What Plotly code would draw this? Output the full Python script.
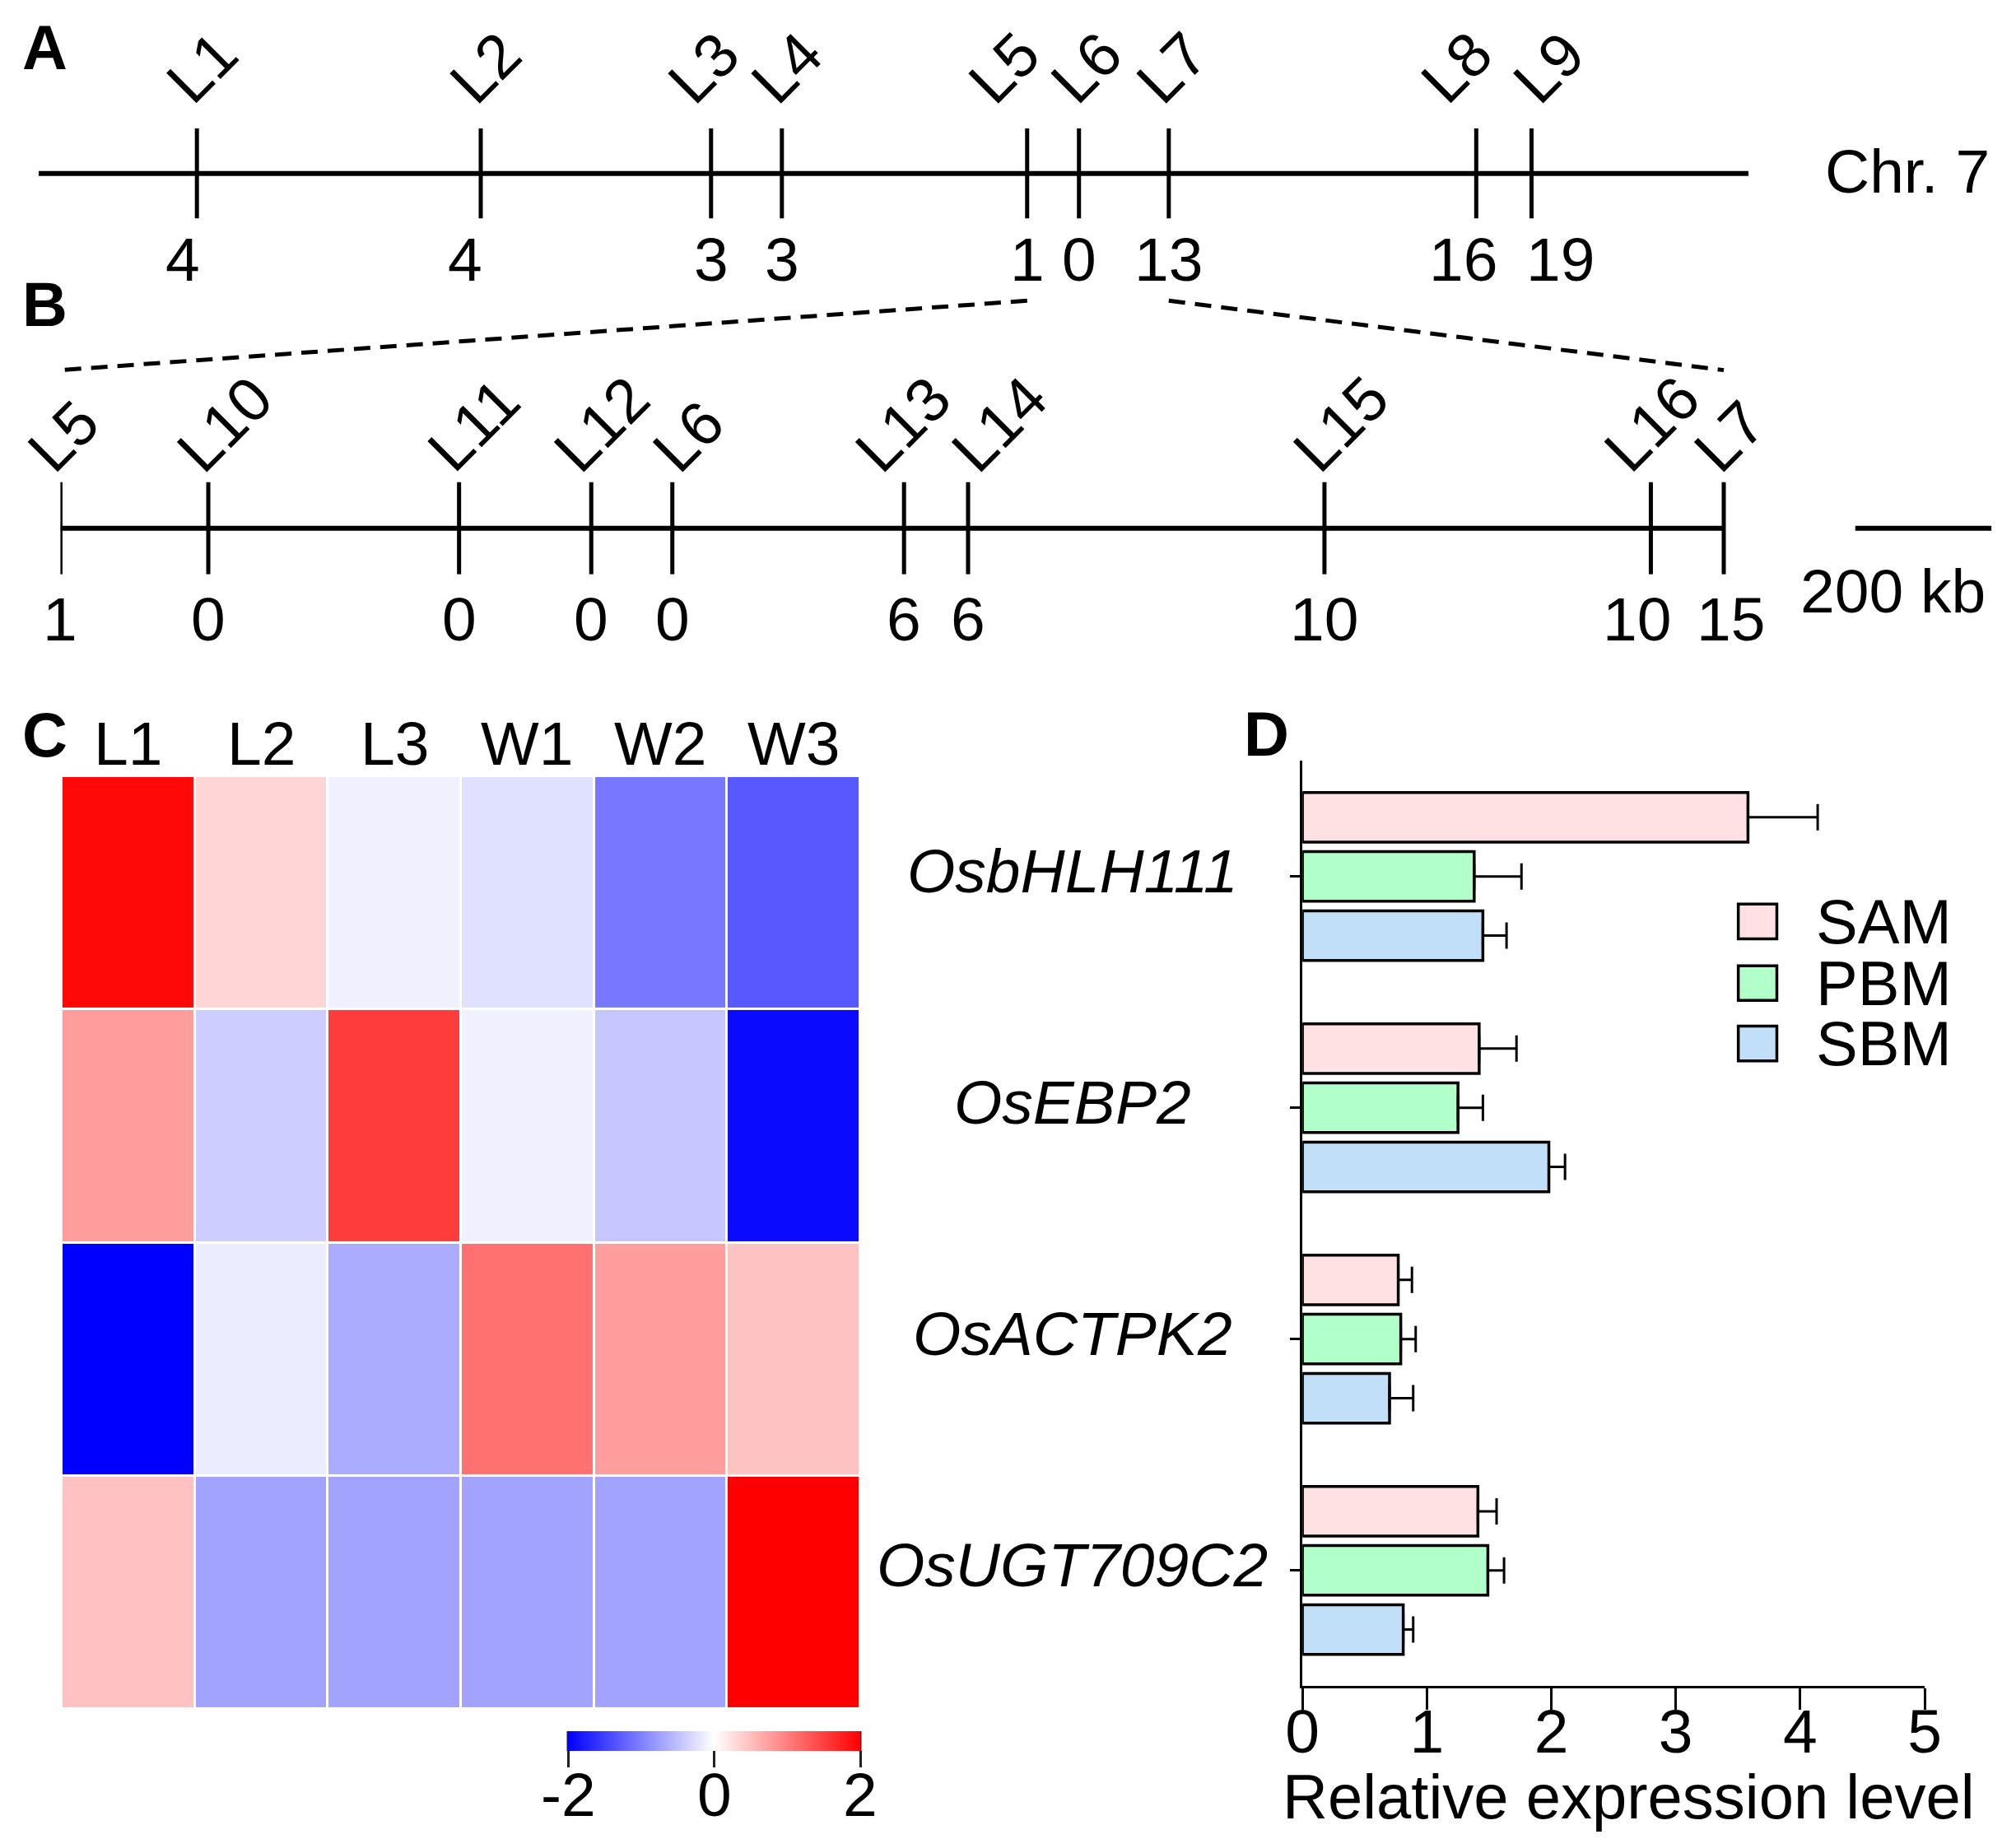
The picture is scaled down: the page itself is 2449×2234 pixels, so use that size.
import plotly.graph_objects as go

# ---------------- data ----------------
# Panel A: chromosome 7 markers (approx. position, Mb) and counts
A_labels = ["L1", "L2", "L3", "L4", "L5", "L6", "L7", "L8", "L9"]
A_pos_mb = [2.75, 7.68, 11.68, 12.91, 17.17, 18.07, 19.63, 24.97, 25.93]
A_counts = [4, 4, 3, 3, 1, 0, 13, 16, 19]
A_chr_len = 29.7

# Panel B: fine-mapping region L5-L7 (kb) and counts
B_labels = ["L5", "L10", "L11", "L12", "L6", "L13", "L14", "L15", "L16", "L7"]
B_pos_kb = [0, 217, 585, 779, 898, 1238, 1332, 1855, 2334, 2441]
B_counts = [1, 0, 0, 0, 0, 6, 6, 10, 10, 15]
B_scale_kb = 200

# Panel C: heatmap (z-score)
C_cols = ["L1", "L2", "L3", "W1", "W2", "W3"]
genes = ["OsbHLH111", "OsEBP2", "OsACTPK2", "OsUGT709C2"]
C_z = [
    [1.94, 0.33, -0.12, -0.24, -1.06, -1.31],
    [0.78, -0.39, 1.53, -0.12, -0.45, -1.92],
    [-2.00, -0.15, -0.65, 1.12, 0.78, 0.48],
    [0.49, -0.73, -0.73, -0.73, -0.73, 2.00],
]
C_ticks = [-2, 0, 2]

# Panel D: relative expression
D_series = ["SAM", "PBM", "SBM"]
D_vals = {
    "SAM": [3.58, 1.42, 0.77, 1.41],
    "PBM": [1.38, 1.25, 0.79, 1.49],
    "SBM": [1.45, 1.98, 0.70, 0.81],
}
D_err = {
    "SAM": [0.56, 0.30, 0.11, 0.15],
    "PBM": [0.38, 0.20, 0.12, 0.13],
    "SBM": [0.19, 0.13, 0.19, 0.08],
}
D_ticks = [0, 1, 2, 3, 4, 5]

# ---------------- layout / style ----------------
W, H = 2449, 2234
SX, SY = W / 1568.0, H / 1431.0   # measurement grid -> pixels
FONT = "Liberation Sans, Arial, Helvetica, sans-serif"
FS = 75
colors = {"SAM": "#FFE0E3", "PBM": "#B1FFC9", "SBM": "#C1DFF8"}

# label nudges (px) as placed in the original figure
A_lab_dx = [0, 0, -15, 0, -34, 3, -2, -30, 15]
A_num_dx = [-17, -19, 0, 0, 0, 0, 0, -16, 35]
B_lab_dx = [-3, -1, -1, -8, 13, -22, 17, -1, -20, 1]
B_num_dx = [0, 0, 0, 0, 0, 0, 0, 0, -17, 8]


def px_x(p):
    return p * SX / W


def px_y(p):
    return 1 - p * SY / H


domA_x = [px_x(30), px_x(1360)]
domA_y = [px_y(170), px_y(100)]
rngA_x = [0, A_chr_len]
domB_x = [px_x(47), px_x(1549)]
domB_y = [px_y(447), px_y(375)]
rngB_x = [0, 2834]
B_scale_start = 2634


def to_paper(v, dom, rng):
    return dom[0] + (v - rng[0]) / (rng[1] - rng[0]) * (dom[1] - dom[0])


fig = go.Figure()

# ---- Panel A ----
fig.add_trace(go.Scatter(x=[0, A_chr_len], y=[0, 0], mode="lines",
                         line=dict(color="black", width=6), xaxis="x", yaxis="y",
                         hoverinfo="skip", showlegend=False))
tx, ty = [], []
for p in A_pos_mb:
    tx += [p, p, None]
    ty += [-1, 1, None]
fig.add_trace(go.Scatter(x=tx, y=ty, mode="lines", line=dict(color="black", width=5),
                         xaxis="x", yaxis="y", hoverinfo="skip", showlegend=False))

# ---- Panel B ----
fig.add_trace(go.Scatter(x=[B_pos_kb[0], B_pos_kb[-1]], y=[0, 0], mode="lines",
                         line=dict(color="black", width=6), xaxis="x2", yaxis="y2",
                         hoverinfo="skip", showlegend=False))
tx, ty = [], []
for p in B_pos_kb:
    tx += [p, p, None]
    ty += [-1, 1, None]
fig.add_trace(go.Scatter(x=tx, y=ty, mode="lines", line=dict(color="black", width=5),
                         xaxis="x2", yaxis="y2", hoverinfo="skip", showlegend=False))
fig.add_trace(go.Scatter(x=[B_scale_start, B_scale_start + B_scale_kb], y=[0, 0], mode="lines",
                         line=dict(color="black", width=6), xaxis="x2", yaxis="y2",
                         hoverinfo="skip", showlegend=False))

# ---- Panel C ----
cb_c, cb_len = 867.5, 355          # colorbar centre / length (px)
cb_top, cb_th = 2103, 24           # colorbar top / thickness (px)
fig.add_trace(go.Heatmap(
    z=C_z, x=C_cols, y=genes, xaxis="x3", yaxis="y3",
    zmin=-2, zmax=2,
    colorscale=[[0, "#0000FF"], [0.5, "#FFFFFF"], [1, "#FF0000"]],
    xgap=3, ygap=3, hoverinfo="skip",
    colorbar=dict(orientation="h", x=cb_c / W, xanchor="center",
                  y=1 - cb_top / H, yanchor="top", len=cb_len, lenmode="pixels",
                  thickness=cb_th, thicknessmode="pixels", xpad=0, ypad=0,
                  outlinewidth=0, tickvals=C_ticks, showticklabels=False,
                  ticks="outside", ticklen=20, tickwidth=3, tickcolor="#222"),
))

# ---- Panel D ----
for s in D_series:
    fig.add_trace(go.Bar(
        y=genes, x=D_vals[s], orientation="h", name=s, xaxis="x4", yaxis="y4",
        marker=dict(color=colors[s], line=dict(color="black", width=3.5)),
        error_x=dict(type="data", array=D_err[s], arrayminus=[0] * len(genes),
                     symmetric=False, color="black", thickness=3, width=16),
        showlegend=False, hoverinfo="skip",
    ))

annotations = []
# Panel A labels
for lab, p, c, ldx, ndx in zip(A_labels, A_pos_mb, A_counts, A_lab_dx, A_num_dx):
    annotations.append(dict(x=p, y=1, xref="x", yref="y", text=lab, textangle=-45,
                            xanchor="left", yanchor="bottom", xshift=-56 + ldx, yshift=12,
                            showarrow=False, font=dict(family=FONT, size=FS)))
    annotations.append(dict(x=p, y=-1, xref="x", yref="y", text=str(c),
                            xanchor="center", yanchor="top", xshift=ndx, yshift=-6,
                            showarrow=False, font=dict(family=FONT, size=FS)))
for lab, p, c, ldx, ndx in zip(B_labels, B_pos_kb, B_counts, B_lab_dx, B_num_dx):
    annotations.append(dict(x=p, y=1, xref="x2", yref="y2", text=lab, textangle=-45,
                            xanchor="left", yanchor="bottom", xshift=-56 + ldx, yshift=-6,
                            showarrow=False, font=dict(family=FONT, size=FS)))
    annotations.append(dict(x=p, y=-1, xref="x2", yref="y2", text=str(c),
                            xanchor="center", yanchor="top", xshift=ndx, yshift=-10,
                            showarrow=False, font=dict(family=FONT, size=FS)))

annotations.append(dict(x=px_x(1418), y=px_y(133), xref="paper", yref="paper", text="Chr. 7",
                        xanchor="left", yanchor="middle", showarrow=False,
                        font=dict(family=FONT, size=FS)))
annotations.append(dict(x=px_x(1472), y=px_y(460), xref="paper", yref="paper", text="200 kb",
                        xanchor="center", yanchor="middle", showarrow=False,
                        font=dict(family=FONT, size=FS)))

# Panel letters
for t, (lx, ly) in {"A": (35, 37), "B": (35, 237), "C": (35, 572), "D": (985, 571)}.items():
    annotations.append(dict(x=px_x(lx), y=px_y(ly), xref="paper", yref="paper",
                            text="<b>%s</b>" % t, xanchor="center", yanchor="middle",
                            showarrow=False, font=dict(family=FONT, size=76)))

# Heatmap column labels
domC_x = [px_x(48), px_x(669)]
domC_y = [px_y(1330), px_y(604)]
for c in C_cols:
    annotations.append(dict(x=c, y=domC_y[1], xref="x3", yref="paper", text=c,
                            xanchor="center", yanchor="bottom", yshift=-4,
                            showarrow=False, font=dict(family=FONT, size=FS)))
# Colorbar tick labels
for v in C_ticks:
    xp = cb_c - cb_len / 2 + (v - C_ticks[0]) / (C_ticks[-1] - C_ticks[0]) * cb_len
    annotations.append(dict(x=xp / W, y=1 - 2180 / H, xref="paper", yref="paper",
                            text=str(v), xanchor="center", yanchor="middle",
                            showarrow=False, font=dict(family=FONT, size=FS)))

# Gene labels for panel D
for g in genes:
    annotations.append(dict(x=px_x(834), y=g, xref="paper", yref="y4",
                            text="<i>%s</i>" % g, xanchor="center", yanchor="middle",
                            yshift=7, showarrow=False, font=dict(family=FONT, size=FS)))

# D axis title
annotations.append(dict(x=1978 / W, y=1 - 2182 / H, xref="paper", yref="paper",
                        text="Relative expression level", xanchor="center", yanchor="middle",
                        showarrow=False, font=dict(family=FONT, size=76)))

# Manual legend for panel D
shapes = []
leg_y = {"SAM": 717, "PBM": 765, "SBM": 812}
for s in D_series:
    yc = leg_y[s]
    shapes.append(dict(type="rect", xref="paper", yref="paper",
                       x0=px_x(1352), x1=px_x(1382), y0=px_y(yc + 13.5), y1=px_y(yc - 13.5),
                       fillcolor=colors[s], line=dict(color="black", width=3.5)))
    annotations.append(dict(x=px_x(1411), y=px_y(yc), xref="paper", yref="paper", text=s,
                            xanchor="left", yanchor="middle", showarrow=False,
                            font=dict(family=FONT, size=76)))

# Dashed connectors A -> B
yA_bot = px_y(234)
yB_top = px_y(288)
shapes.append(dict(type="line", xref="paper", yref="paper",
                   x0=to_paper(A_pos_mb[4], domA_x, rngA_x), y0=yA_bot,
                   x1=to_paper(B_pos_kb[0], domB_x, rngB_x), y1=yB_top,
                   line=dict(color="black", width=5, dash="20px,12px")))
shapes.append(dict(type="line", xref="paper", yref="paper",
                   x0=to_paper(A_pos_mb[6], domA_x, rngA_x), y0=yA_bot,
                   x1=to_paper(B_pos_kb[-1], domB_x, rngB_x), y1=yB_top,
                   line=dict(color="black", width=5, dash="20px,12px")))

# Colorbar inner tick marks (through the bar)
for v in C_ticks:
    xp = cb_c - cb_len / 2 + (v - C_ticks[0]) / (C_ticks[-1] - C_ticks[0]) * cb_len
    shapes.append(dict(type="line", xref="paper", yref="paper",
                       x0=xp / W, x1=xp / W, y0=1 - (cb_top + cb_th) / H, y1=1 - cb_top / H,
                       line=dict(color="#222", width=3)))

hidden = dict(visible=False)
fig.update_layout(
    width=W, height=H, margin=dict(l=0, r=0, t=0, b=0, pad=0, autoexpand=False),
    paper_bgcolor="white", plot_bgcolor="white",
    font=dict(family=FONT, size=FS, color="black"),
    showlegend=False,
    xaxis=dict(domain=domA_x, range=rngA_x, **hidden),
    yaxis=dict(domain=domA_y, range=[-1, 1], **hidden),
    xaxis2=dict(domain=domB_x, range=rngB_x, **hidden),
    yaxis2=dict(domain=domB_y, range=[-1, 1], **hidden),
    xaxis3=dict(domain=domC_x, showticklabels=False, ticks="", showgrid=False,
                zeroline=False, showline=False, anchor="y3"),
    yaxis3=dict(domain=domC_y, autorange="reversed", showticklabels=False, ticks="",
                showgrid=False, zeroline=False, showline=False, anchor="x3"),
    xaxis4=dict(domain=[px_x(1013), px_x(1497)], range=[0, 5], anchor="y4",
                tickvals=D_ticks, ticks="outside", ticklen=26, tickwidth=3,
                tickcolor="black", showline=True, linecolor="black", linewidth=3,
                showgrid=False, zeroline=False, ticklabelstandoff=-38,
                tickfont=dict(family=FONT, size=FS)),
    yaxis4=dict(domain=[px_y(1312), px_y(592)], range=[3.5, -0.5], anchor="x4",
                type="category", categoryorder="array", categoryarray=genes,
                showticklabels=False, ticks="outside", ticklen=12, tickwidth=3,
                tickcolor="black", showline=True, linecolor="black", linewidth=3,
                showgrid=False, zeroline=False),
    barmode="group", bargap=0.233, bargroupgap=0.161,
    annotations=annotations, shapes=shapes,
)

fig.write_html("out.html", config={"displayModeBar": False},
               post_script="document.body.style.margin='0px';document.body.style.overflow='hidden';")
